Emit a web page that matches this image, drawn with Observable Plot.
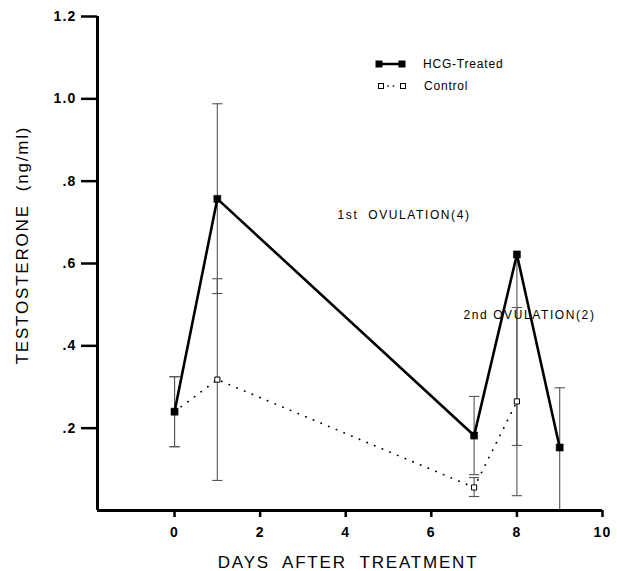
<!DOCTYPE html>
<html>
<head>
<meta charset="utf-8">
<script src="https://cdn.jsdelivr.net/npm/d3@7"></script>
<script src="https://cdn.jsdelivr.net/npm/@observablehq/plot@0.6"></script>
<style>
  html, body { margin: 0; padding: 0; background: #fff; }
  svg text { white-space: pre; }
</style>
</head>
<body>
<div id="chart"></div>
<script>
// ---- data ----
const hcgDays = [0, 1, 7, 8, 9];
const hcgValues = [0.24, 0.757, 0.182, 0.622, 0.153];
const hcgLow = [0.155, 0.527, 0.087, 0.158, 0];
const hcgHigh = [0.325, 0.988, 0.277, 0.622, 0.298];

const controlDays = [0, 1, 7, 8];
const controlValues = [0.24, 0.318, 0.056, 0.265];
const controlLow = [0.155, 0.073, 0.034, 0.036];
const controlHigh = [0.325, 0.563, 0.08, 0.493];

const xTicks = [0, 2, 4, 6, 8, 10];
const yTicks = [0.2, 0.4, 0.6, 0.8, 1.0, 1.2];
const yTickLabels = [".2", ".4", ".6", ".8", "1.0", "1.2"];

const seriesNames = ["HCG-Treated", "Control"];
const noteLabels = ["1st  OVULATION(4)", "2nd OVULATION(2)"];
const noteDays = [3.81, 6.75];
const noteValues = [0.709, 0.464];

const xTitle = "DAYS  AFTER  TREATMENT";
const yTitle = "TESTOSTERONE  (ng/ml)";

// ---- build tables ----
const xDomain = [-1.8, 10];
const yDomain = [0, 1.2];
const capHalf = 0.12;

const hcg = hcgDays.map((d, i) => ({day: d, v: hcgValues[i], lo: hcgLow[i], hi: hcgHigh[i]}));
const ctrl = controlDays.map((d, i) => ({day: d, v: controlValues[i], lo: controlLow[i], hi: controlHigh[i]}));
const bars = [...hcg, ...ctrl];
const caps = [];
for (const b of bars) {
  if (b.lo > 0 && b.lo < b.v) caps.push({day: b.day, v: b.lo});
  if (b.hi > b.v) caps.push({day: b.day, v: b.hi});
}
const notes = noteLabels.map((t, i) => ({label: t, day: noteDays[i], v: noteValues[i]}));

const font = "'Liberation Sans', Arial, Helvetica, sans-serif";

const plot = Plot.plot({
  width: 617,
  height: 571,
  marginLeft: 97,
  marginRight: 15,
  marginTop: 16,
  marginBottom: 61,
  style: {fontFamily: font, fontSize: "14px", background: "white", color: "black"},
  x: {domain: xDomain},
  y: {domain: yDomain},
  marks: [
    Plot.axisX({ticks: xTicks, tickSize: 7, tickPadding: 10, strokeWidth: 2.5, label: null,
      tickFormat: d => String(d), fontSize: 14, fontWeight: "bold"}),
    Plot.axisY({ticks: yTicks, tickSize: 16, tickPadding: 5, strokeWidth: 2.5, label: null,
      tickFormat: d => yTickLabels[yTicks.findIndex(t => Math.abs(t - d) < 1e-9)], fontSize: 14, fontWeight: "bold"}),
    Plot.ruleX(bars, {x: "day", y1: "lo", y2: "hi", stroke: "#555", strokeWidth: 1.1}),
    Plot.link(caps, {x1: d => d.day - capHalf, x2: d => d.day + capHalf, y1: "v", y2: "v", stroke: "#555", strokeWidth: 1.1}),
    Plot.line(ctrl, {x: "day", y: "v", stroke: "black", strokeWidth: 1.7, strokeDasharray: "0.3,8", strokeLinecap: "round"}),
    Plot.dot(ctrl, {x: "day", y: "v", symbol: "square", r: 2.9, fill: "white", stroke: "black", strokeWidth: 1}),
    Plot.line(hcg, {x: "day", y: "v", stroke: "black", strokeWidth: 2.6}),
    Plot.dot(hcg, {x: "day", y: "v", symbol: "square", r: 4, fill: "black", stroke: "black", strokeWidth: 0.5}),
    Plot.text(notes, {x: "day", y: "v", text: "label", textAnchor: "start", lineAnchor: "bottom", fontSize: 12, fill: "black"}),
    Plot.ruleY([yDomain[0]], {stroke: "black", strokeWidth: 3}),
    Plot.ruleX([xDomain[0]], {stroke: "black", strokeWidth: 3})
  ]
});

const svg = d3.select(plot);
// tick label styling
svg.selectAll("g").filter(function () {
  const a = this.getAttribute("aria-label") || "";
  return a.includes("axis");
}).selectAll("text").style("font-size", "14px").style("font-weight", "bold").style("letter-spacing", "1.2px");

// letter spacing for annotations
svg.selectAll('g[aria-label="text"] text').style("letter-spacing", "1.6px");

// axis titles
svg.append("text")
  .attr("transform", "translate(28,245) rotate(-90)")
  .attr("text-anchor", "middle")
  .style("font-family", font).style("font-size", "17px").style("letter-spacing", "1.8px")
  .text(yTitle);
svg.append("text")
  .attr("x", 348).attr("y", 568)
  .attr("text-anchor", "middle")
  .style("font-family", font).style("font-size", "17px").style("letter-spacing", "1.8px")
  .text(xTitle);

// legend
const lg = svg.append("g").attr("aria-label", "legend");
lg.append("line").attr("x1", 378).attr("x2", 403).attr("y1", 64).attr("y2", 64).attr("stroke", "black").attr("stroke-width", 2.5);
[379, 402].forEach(cx => lg.append("rect").attr("x", cx - 3.5).attr("y", 60.5).attr("width", 7).attr("height", 7).attr("fill", "black"));
lg.append("text").attr("x", 423).attr("y", 68).attr("text-anchor", "start")
  .style("font-family", font).style("font-size", "12px").style("letter-spacing", "0.8px").text(seriesNames[0]);
lg.append("line").attr("x1", 388).attr("x2", 397).attr("y1", 86).attr("y2", 86).attr("stroke", "black").attr("stroke-width", 1.6).attr("stroke-dasharray", "0.3,5").attr("stroke-linecap", "round");
[381, 403].forEach(cx => lg.append("rect").attr("x", cx - 2.5).attr("y", 83.5).attr("width", 5).attr("height", 5).attr("fill", "white").attr("stroke", "black").attr("stroke-width", 1));
lg.append("text").attr("x", 424).attr("y", 90).attr("text-anchor", "start")
  .style("font-family", font).style("font-size", "12px").style("letter-spacing", "0.8px").text(seriesNames[1]);

document.getElementById("chart").appendChild(plot);
</script>
</body>
</html>
